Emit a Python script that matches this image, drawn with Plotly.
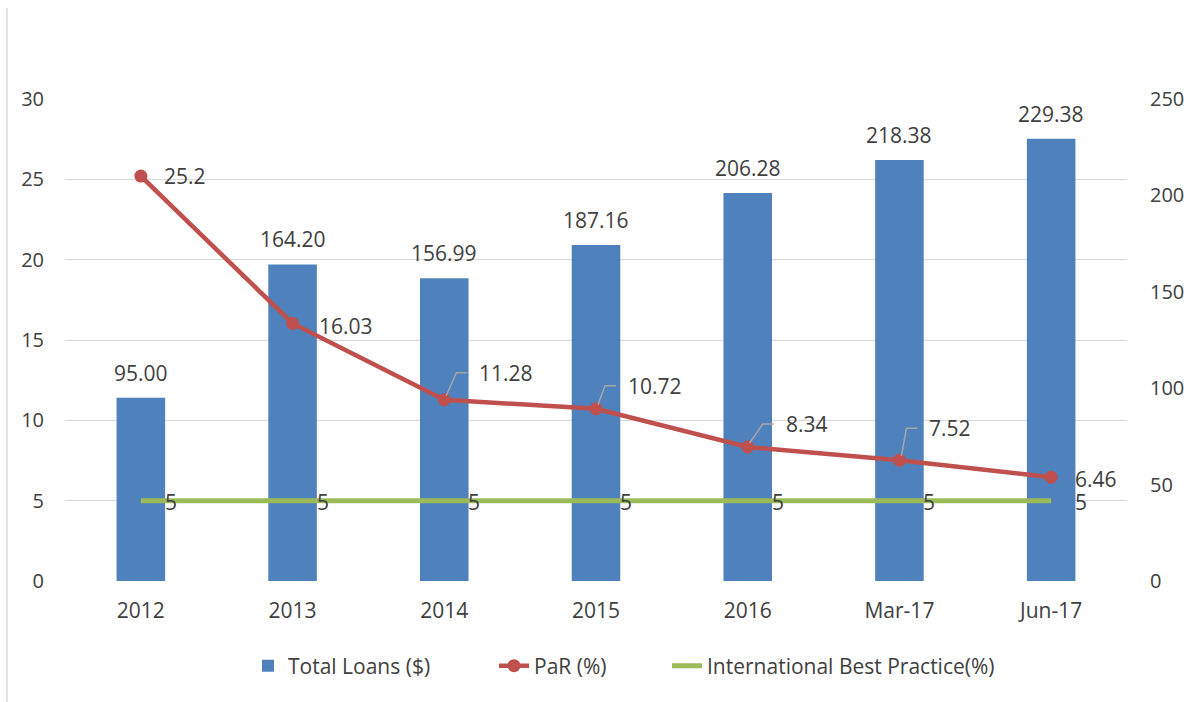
import plotly.graph_objects as go

# ---- data ----
categories = ["2012", "2013", "2014", "2015", "2016", "Mar-17", "Jun-17"]
# bar heights as drawn in the reference (right axis)
total_loans = [95.00, 164.20, 156.99, 174.3, 201.2, 218.38, 229.38]
# value labels printed above the bars
total_loans_labels = ["95.00", "164.20", "156.99", "187.16", "206.28", "218.38", "229.38"]
par = [25.2, 16.03, 11.28, 10.72, 8.34, 7.52, 6.46]
best_practice = [5, 5, 5, 5, 5, 5, 5]
left_ticks = [0, 5, 10, 15, 20, 25, 30]
right_ticks = [0, 50, 100, 150, 200, 250]

# ---- label placement (pixels, styling only) ----
par_dx = [21, 24, 33, 30, 36, 28, 22]
par_dy = [0, 3, -27, -23, -23, -32, 2]   # screen-down positive
leader = [False, False, True, True, True, True, False]

FONT = "Open Sans"
TXT = "#404040"
GRID = "#d9d9d9"
BLUE = "#4F81BD"
RED = "#C0504D"
GREEN = "#9BBB59"

W, H = 1196, 702
L, R, T, B = 65, 69, 99, 121
ph = H - T - B
pw = W - L - R


def px_x(p):
    return (p - L) / pw


fig = go.Figure()
fig.add_trace(go.Bar(x=categories, y=total_loans, name="Total Loans ($)",
                     marker=dict(color=BLUE, line=dict(width=0)), width=0.32, yaxis="y",
                     legend="legend"))
fig.add_trace(go.Scatter(x=categories, y=par, name="PaR (%)", mode="lines+markers",
                         line=dict(color=RED, width=4.5), marker=dict(size=13, color=RED),
                         yaxis="y2", legend="legend2"))
fig.add_trace(go.Scatter(x=categories, y=best_practice, name="International Best Practice(%)",
                         mode="lines", line=dict(color=GREEN, width=5), yaxis="y2",
                         legend="legend3"))

ann = []
shapes = []
for i, (v, t) in enumerate(zip(total_loans, total_loans_labels)):
    ann.append(dict(x=i, y=v, xref="x", yref="y", text=t, showarrow=False,
                    yshift=25, font=dict(family=FONT, size=21, color=TXT)))
for i, v in enumerate(par):
    ann.append(dict(x=i, y=v, xref="x", yref="y2", text=f"{v:g}", showarrow=False,
                    xanchor="left", xshift=par_dx[i], yshift=-par_dy[i],
                    font=dict(family=FONT, size=21, color=TXT)))
    if leader[i]:
        ex, ey = par_dx[i] - 10, -par_dy[i]
        shapes.append(dict(type="path", xref="x", yref="y2", xsizemode="pixel", ysizemode="pixel",
                           xanchor=i, yanchor=v,
                           path=f"M2,4 L{ex-11},{ey} L{ex},{ey}",
                           line=dict(color="#a6a6a6", width=1.5)))
for i, v in enumerate(best_practice):
    ann.append(dict(x=i, y=v, xref="x", yref="y2", text=f"{v:g}", showarrow=False,
                    xanchor="left", xshift=22, yshift=-1,
                    font=dict(family=FONT, size=21, color=TXT)))

# partially visible title descender at top of the page
ann.append(dict(x=px_x(137), y=(ph + T + 3) / ph, xref="paper", yref="paper",
                text="g", showarrow=False, yanchor="bottom",
                font=dict(family="Liberation Serif", size=28, color="#000000")))

# left chart border
shapes.append(dict(type="line", xref="paper", yref="paper",
                   x0=px_x(7), x1=px_x(7),
                   y0=(ph + T - 8) / ph, y1=-(B) / ph,
                   line=dict(color=GRID, width=1.5)))

leg_y = -85 / ph
leg_font = dict(family=FONT, size=21, color=TXT)


def leg(xpix):
    return dict(orientation="h", x=px_x(xpix), xanchor="left", y=leg_y, yanchor="middle",
                font=leg_font, bgcolor="rgba(0,0,0,0)")


fig.update_layout(
    width=W, height=H,
    margin=dict(l=L, r=R, t=T, b=B),
    paper_bgcolor="white", plot_bgcolor="white",
    font=dict(family=FONT, color=TXT),
    showlegend=True,
    legend=leg(248),
    legend2=leg(494),
    legend3=leg(667),
    xaxis=dict(range=[-0.5, 6.5], showgrid=False, zeroline=False, showline=False, ticks="",
               tickfont=dict(size=21, color=TXT), ticklabelstandoff=15),
    yaxis=dict(side="right", range=[0, 250], tickvals=right_ticks, showgrid=False,
               zeroline=False, showline=False, ticks="",
               tickfont=dict(size=20, color=TXT), ticklabelstandoff=22),
    yaxis2=dict(side="left", overlaying="y", range=[0, 30], tickvals=left_ticks,
                showgrid=True, gridcolor=GRID, gridwidth=1.3, zeroline=False, showline=False,
                ticks="", tickfont=dict(size=20, color=TXT), ticklabelstandoff=20),
    annotations=ann,
    shapes=shapes,
)

fig.write_html("out.html")
